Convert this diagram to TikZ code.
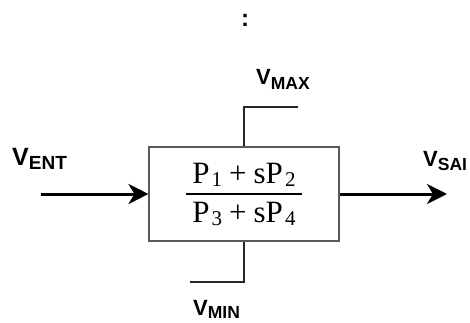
\documentclass[tikz,border=0pt]{standalone}
\usepackage{fontspec}
\setmainfont{Liberation Serif}
\newfontfamily\lsans{Liberation Sans}
\usetikzlibrary{arrows.meta}
\newcommand{\vbig}{\lsans\bfseries\fontsize{25}{25}\selectfont}
\newcommand{\vsubbig}{\lsans\bfseries\fontsize{19}{19}\selectfont}
\newcommand{\vsm}{\lsans\bfseries\fontsize{22}{22}\selectfont}
\newcommand{\vsubsm}{\lsans\bfseries\fontsize{17.5}{17.5}\selectfont}
\newcommand{\fracfont}{\fontsize{31}{31}\selectfont}
\newcommand{\fracsub}{\fontsize{21}{21}\selectfont}
\newcommand{\Ps}[1]{P\kern2pt\raisebox{-3.5pt}{\fracsub #1}}
\begin{document}
\begin{tikzpicture}[x=1pt,y=-1pt,
  blockbox/.style={draw=black!65, line width=1.1pt, minimum width=190pt, minimum height=94pt, inner sep=0pt},
  thickarrow/.style={line width=3pt, -{Stealth[length=20pt,width=20pt,inset=6pt]}},
  thinline/.style={draw=black!85, line width=1.1pt},
  lbl/.style={anchor=base west, inner sep=0pt},
  fr/.style={anchor=base, inner sep=0pt}]
\useasboundingbox (0,0) rectangle (470,323);
\fill[white] (0,0) rectangle (470,323);
% colon
\node[inner sep=0pt] (colon) at (245,20) {\lsans\bfseries\fontsize{24}{24}\selectfont :};
% block
\node[blockbox] (blk) at (244,194) {};
\node[fr] (num) at (244,183) {\fracfont \Ps{1}\hspace{7pt}+\hspace{7pt}s\Ps{2}};
\node[fr] (den) at (244,222) {\fracfont \Ps{3}\hspace{7pt}+\hspace{7pt}s\Ps{4}};
\coordinate (ruleL) at (186,194);
\coordinate (ruleR) at (302,194);
\draw[line width=1.2pt] (ruleL) -- (ruleR);
% connectors
\coordinate (inStart) at (41,194);
\coordinate (outEnd) at (447,194);
\draw[thickarrow] (inStart) -- (blk.west);
\draw[thickarrow] (blk.east) -- (outEnd);
\coordinate (maxEnd) at (298,107);
\coordinate (minEnd) at (190,282);
\draw[thinline] (blk.north) |- (maxEnd);
\draw[thinline] (blk.south) |- (minEnd);
% labels
\node[lbl] (vent) at (12,165) {\vbig V\raisebox{-4pt}{\vsubbig ENT}};
\node[lbl] (vmax) at (256,85) {\vsm V\raisebox{-5pt}{\vsubsm MAX}};
\node[lbl] (vsai) at (423,166) {\vsm V\raisebox{-4pt}{\vsubsm SAI}};
\node[lbl] (vmin) at (193,315) {\vsm V\raisebox{-3.5pt}{\vsubsm MIN}};
\end{tikzpicture}
\end{document}
